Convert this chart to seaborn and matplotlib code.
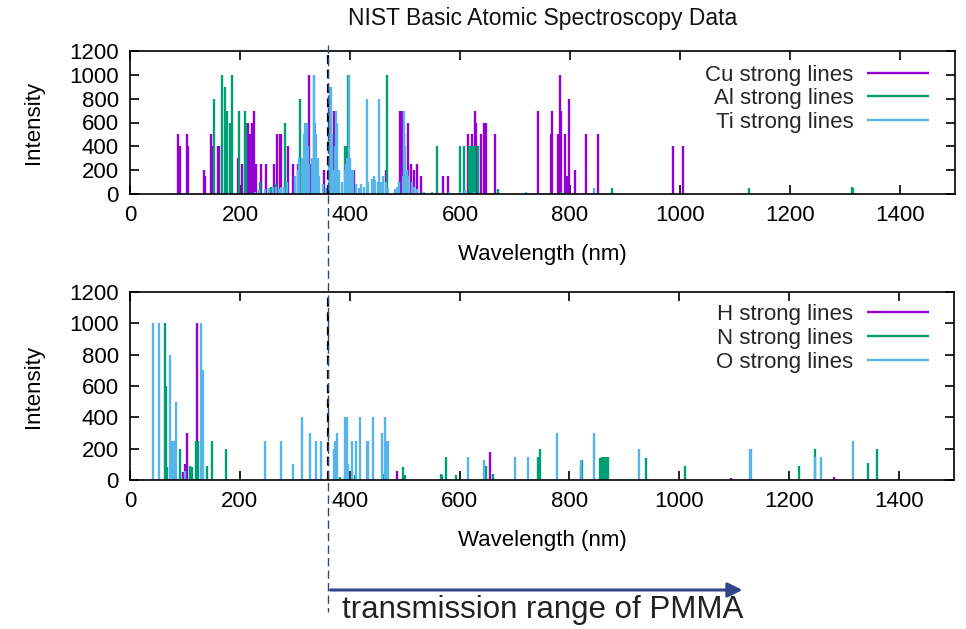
import numpy as np
import pandas as pd
import seaborn as sns
import matplotlib
matplotlib.use("Agg")
import matplotlib.pyplot as plt
from matplotlib.lines import Line2D
from matplotlib.patches import FancyArrowPatch

# ---------------- data ----------------
cu_wl = [88, 90, 104, 105, 135, 136, 148, 149, 160, 162, 197, 204, 212, 215, 218, 221,
         225, 229, 239, 248, 261, 268, 272, 275, 288, 297, 305, 325, 329, 353, 370, 407,
         465, 491, 494, 498, 505, 511, 516, 521, 529, 570, 578, 615, 621, 627, 630, 638,
         643, 648, 664, 741, 765, 767, 779, 781, 783, 791, 794, 799, 809, 829, 851, 987, 1006]
cu_int = [500, 400, 500, 400, 200, 150, 500, 400, 400, 400, 300, 250, 600, 600, 500, 600,
          700, 250, 250, 250, 250, 500, 500, 500, 400, 250, 250, 1000, 250, 200, 700, 200,
          200, 700, 700, 500, 600, 250, 200, 250, 150, 150, 150, 500, 500, 700, 600, 500,
          600, 600, 500, 700, 500, 700, 500, 1000, 700, 500, 150, 800, 200, 500, 500, 400, 400]

al_wl = [153, 167, 172, 176, 182, 186, 199, 209, 211, 237, 257, 266, 281, 309, 390, 394,
         397, 467, 559, 600, 607, 617, 620, 624, 628, 633, 670, 783, 877, 1125, 1313, 1315]
al_int = [800, 1000, 900, 700, 600, 1000, 700, 700, 600, 100, 60, 80, 600, 800, 400, 400,
          1000, 1000, 400, 400, 400, 400, 400, 400, 400, 400, 40, 20, 50, 50, 60, 50]

ti_wl = [227, 235, 245, 252, 260, 265, 270, 275, 280, 285, 300, 305, 308, 312, 316, 319,
         321, 323, 325, 330, 334, 335, 337, 339, 341, 344, 350, 356, 362, 364, 365, 367,
         370, 372, 375, 377, 380, 385, 390, 393, 395, 398, 400, 402, 405, 410, 416, 420,
         425, 430, 433, 440, 444, 446, 450, 453, 456, 460, 465, 469, 482, 485, 490, 496,
         498, 500, 503, 506, 512, 517, 522, 535, 550, 580, 600, 610, 625, 720, 844]
ti_int = [20, 30, 40, 50, 60, 60, 40, 60, 60, 100, 150, 200, 300, 300, 500, 600,
          600, 400, 250, 300, 1000, 1000, 600, 500, 300, 150, 80, 50, 300, 900, 900, 500,
          200, 400, 700, 600, 200, 100, 200, 250, 300, 1000, 300, 200, 200, 80, 50, 80,
          60, 800, 100, 130, 150, 120, 100, 800, 100, 150, 100, 50, 40, 60, 100, 150,
          700, 400, 200, 150, 100, 60, 40, 20, 20, 15, 20, 30, 20, 20, 50]

h_wl = [97, 100, 103, 122, 486, 656, 1094, 1282]
h_int = [50, 100, 300, 1000, 60, 180, 10, 20]

n_wl = [64, 66, 68, 76, 91, 109, 113, 120, 124, 141, 149, 175, 383, 392, 405, 410, 463,
        497, 500, 566, 568, 576, 594, 648, 661, 743, 746, 821, 822, 856, 859, 862, 865,
        868, 871, 939, 1011, 1218, 1247, 1343, 1359]
n_int = [1000, 600, 80, 200, 200, 90, 80, 250, 250, 90, 250, 200, 20, 30, 20, 30, 40,
         80, 30, 40, 30, 150, 30, 90, 40, 150, 200, 90, 130, 140, 150, 150, 150,
         150, 150, 140, 90, 90, 200, 110, 200]

o_wl = [42, 53, 72, 77, 80, 83, 100, 130, 132, 245, 274, 297, 313, 328, 339, 347, 372,
        374, 376, 391, 395, 396, 405, 411, 418, 432, 434, 442, 459, 465, 467, 470, 615,
        645, 700, 725, 777, 821, 845, 926, 1128, 1130, 1247, 1257, 1316]
o_int = [1000, 1000, 800, 250, 250, 500, 60, 1000, 700, 250, 250, 100, 400, 300, 250, 250, 200,
         250, 300, 400, 400, 100, 250, 250, 400, 250, 250, 400, 300, 400, 250, 250, 150,
         130, 150, 150, 300, 130, 300, 200, 200, 200, 150, 150, 250]

top_labels = ["Cu strong lines", "Al strong lines", "Ti strong lines"]
bottom_labels = ["H strong lines", "N strong lines", "O strong lines"]
x_ticks = [0, 200, 400, 600, 800, 1000, 1200, 1400]
y_ticks = [0, 200, 400, 600, 800, 1000, 1200]
pmma_start, pmma_end = 360, 1120

colors = ["#9400D3", "#009E73", "#56B4E9"]

# ---------------- style ----------------
sns.set_style("ticks")
plt.rcParams['font.family'] = ['Liberation Sans', 'DejaVu Sans']
plt.rcParams['axes.edgecolor'] = 'black'
plt.rcParams['axes.linewidth'] = 1.2

W, H = 966, 629
fig = plt.figure(figsize=(W / 100, H / 100), dpi=100)
ax_top = fig.add_axes([130 / W, 1 - 194 / H, 825 / W, 143 / H])
ax_bot = fig.add_axes([130 / W, 1 - 480 / H, 824 / W, 188 / H])


def draw(ax, series, labels, leg_anchor):
    for (wl, it), lab, col in zip(series, labels, colors):
        df = pd.DataFrame({"wl": wl, "I": it})
        ax.vlines(df["wl"], 0, df["I"], color=col, lw=1.7, label=lab)
    ax.axvline(pmma_start, color="black", lw=1.6, ls=(0, (4, 2.5)), zorder=5)
    ax.set_xlim(0, 1500)
    ax.set_ylim(0, 1200)
    ax.set_xticks(x_ticks)
    ax.set_yticks(y_ticks)
    ax.tick_params(direction="in", top=True, right=True, length=6.5, width=1.2,
                   labelsize=16, pad=8, color="black", labelcolor="black")
    ax.set_xlabel("Wavelength (nm)", fontsize=16, labelpad=13, color="black")
    ax.set_ylabel("Intensity", fontsize=16, labelpad=18, color="black")
    ax.legend(loc="upper right", bbox_to_anchor=leg_anchor, frameon=False,
              markerfirst=False, fontsize=16, handlelength=2.8, handletextpad=0.6,
              labelspacing=0.12, borderaxespad=0, borderpad=0)


draw(ax_top, [(cu_wl, cu_int), (al_wl, al_int), (ti_wl, ti_int)], top_labels,
     (0.9685, 0.905))
draw(ax_bot, [(h_wl, h_int), (n_wl, n_int), (o_wl, o_int)], bottom_labels,
     (0.9697, 0.935))

fig.text((130 + 955) / 2 / W, 1 - 18 / H, "NIST Basic Atomic Spectroscopy Data",
         ha="center", va="center", fontsize=16.5, color="#111111")

# figure-level PMMA marker: dashed line + arrow + text
inv = fig.transFigure.inverted()
x0 = inv.transform(ax_bot.transData.transform((pmma_start, 0)))[0]
x1 = inv.transform(ax_bot.transData.transform((pmma_end, 0)))[0]
navy = "#34438A"
fig.add_artist(Line2D([x0, x0], [1 - 45 / H, 1 - 612 / H], transform=fig.transFigure,
                      color=navy, lw=1.0, ls=(0, (6, 3)), zorder=10))
fig.add_artist(FancyArrowPatch((x0, 1 - 590 / H), (x1, 1 - 590 / H),
                               transform=fig.transFigure, arrowstyle="-|>",
                               mutation_scale=22, color=navy, lw=2.2, zorder=10))
fig.text(x0 + 14 / W, 1 - 610 / H, "transmission range of PMMA", ha="left", va="center",
         fontsize=22.5, color="#222222")

fig.savefig("out.png", dpi=100)
